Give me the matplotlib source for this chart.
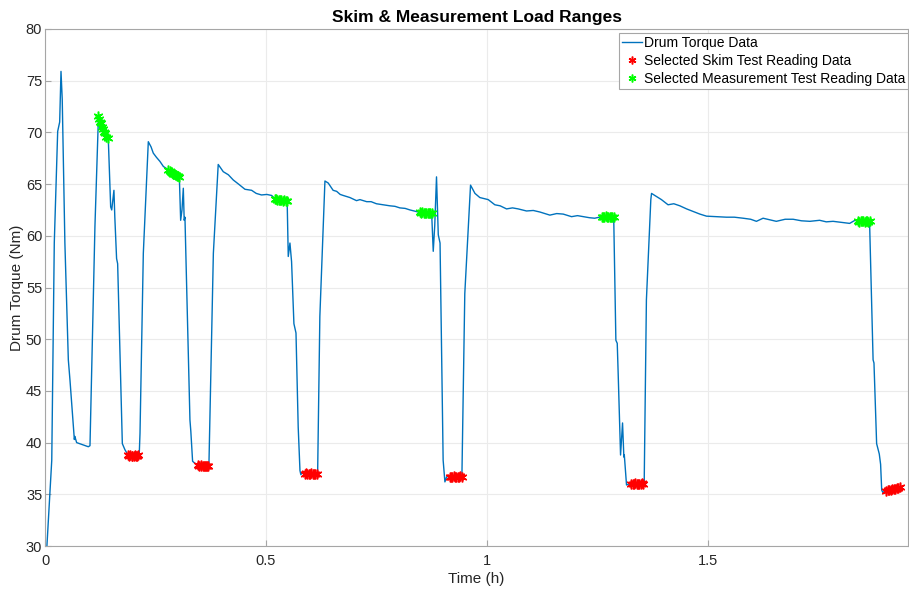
import numpy as np
import matplotlib.pyplot as plt

# Drum torque trace (time in hours, torque in Nm)
time_h = [0.003, 0.0153, 0.021, 0.0287, 0.0332, 0.0362, 0.039, 0.045, 0.0528, 0.0566,
          0.0664, 0.0675, 0.0716, 0.085, 0.098, 0.1018, 0.113, 0.1207,
          0.1433, 0.1486, 0.151, 0.156, 0.158, 0.162, 0.1644, 0.175, 0.181,
          0.2133, 0.215, 0.2225, 0.2338, 0.240, 0.245, 0.252, 0.26, 0.268, 0.2753,
          0.3039, 0.307, 0.31, 0.313, 0.315, 0.3167, 0.3205, 0.328, 0.330, 0.334, 0.339,
          0.371, 0.381, 0.392, 0.397, 0.4034, 0.415, 0.426, 0.438, 0.4525, 0.4676, 0.478,
          0.490, 0.502, 0.513,
          0.5505, 0.5543, 0.558, 0.5633, 0.568, 0.573, 0.577, 0.579, 0.583,
          0.617, 0.622, 0.6335, 0.641, 0.652, 0.66, 0.668, 0.675, 0.690, 0.705, 0.7127,
          0.728, 0.738, 0.750, 0.765, 0.7805, 0.792, 0.803, 0.815, 0.826, 0.8446,
          0.8786, 0.882, 0.886, 0.890, 0.894, 0.901, 0.905, 0.909,
          0.9435, 0.950, 0.963, 0.973, 0.984, 0.994, 1.003, 1.018, 1.030, 1.0445, 1.058,
          1.071, 1.0897, 1.105, 1.12, 1.1425, 1.158, 1.1727, 1.1916, 1.205, 1.218, 1.232,
          1.244,
          1.2919, 1.295, 1.2971, 1.3025, 1.307, 1.31, 1.311, 1.316, 1.322,
          1.356, 1.361, 1.371, 1.3726, 1.384, 1.395, 1.410, 1.423, 1.4367, 1.452, 1.4668,
          1.482, 1.497, 1.520, 1.542, 1.560, 1.580, 1.597, 1.610, 1.625, 1.640, 1.655,
          1.675, 1.693, 1.712, 1.731, 1.753, 1.768, 1.7835, 1.802, 1.821, 1.833,
          1.874, 1.876, 1.882, 1.888, 1.891, 1.8935, 1.897, 1.900]
torque = [29.0, 38.3, 59.3, 70.1, 71.0, 75.9, 73.2, 59.3, 48.0, 46.0,
          40.3, 40.6, 40.0, 39.8, 39.6, 39.7, 60.9, 71.5,
          69.3, 62.8, 62.5, 64.4, 61.8, 57.8, 57.3, 39.9, 39.3,
          38.9, 40.9, 58.3, 69.1, 68.6, 68.0, 67.6, 67.2, 66.7, 66.5,
          65.6, 61.5, 62.5, 64.6, 61.5, 61.8, 55.1, 42.2, 41.1, 38.2, 38.0,
          37.9, 58.3, 66.9, 66.6, 66.2, 65.9, 65.4, 65.0, 64.5, 64.4, 64.1,
          63.95, 64.0, 63.9,
          58.0, 59.3, 57.5, 51.5, 50.6, 41.5, 37.3, 36.9, 37.2,
          37.1, 52.2, 65.3, 65.1, 64.4, 64.3, 64.0, 63.9, 63.7, 63.4, 63.5,
          63.3, 63.3, 63.1, 63.0, 62.9, 62.85, 62.7, 62.65, 62.5, 62.3,
          58.5, 61.0, 65.7, 60.1, 59.3, 38.3, 36.2, 36.7,
          36.8, 54.4, 64.9, 64.1, 63.7, 63.6, 63.5, 63.0, 62.9, 62.6, 62.7,
          62.6, 62.4, 62.45, 62.3, 62.0, 62.15, 62.1, 61.85, 61.95, 61.85, 61.75,
          61.7,
          49.9, 49.6, 46.7, 38.8, 41.9, 38.6, 38.8, 35.9, 36.0,
          36.1, 53.8, 63.5, 64.1, 63.8, 63.5, 63.0, 63.1, 62.9, 62.6, 62.35,
          62.1, 61.9, 61.85, 61.8, 61.8, 61.7, 61.6, 61.4, 61.7, 61.55, 61.4,
          61.6, 61.6, 61.45, 61.4, 61.5, 61.35, 61.4, 61.3, 61.2, 61.5,
          48.0, 47.7, 39.9, 38.9, 37.9, 35.4, 35.1, 35.4]

# Selected skim test readings (low-load plateaus)
skim_t = [0.188, 0.191, 0.193, 0.196, 0.198, 0.201, 0.203, 0.206, 0.208, 0.211,
          0.347, 0.349, 0.352, 0.354, 0.357, 0.359, 0.362, 0.364, 0.367, 0.369,
          0.588, 0.591, 0.594, 0.597, 0.600, 0.603, 0.606, 0.609, 0.612, 0.615,
          0.916, 0.919, 0.922, 0.925, 0.928, 0.931, 0.934, 0.937, 0.940, 0.943,
          1.327, 1.330, 1.333, 1.336, 1.339, 1.342, 1.345, 1.348, 1.351, 1.354,
          1.904, 1.907, 1.911, 1.914, 1.917, 1.921, 1.924, 1.927, 1.931, 1.934]
skim_v = [38.8, 38.7, 38.8, 38.7, 38.75, 38.7, 38.8, 38.7, 38.7, 38.8,
          37.8, 37.7, 37.8, 37.7, 37.75, 37.7, 37.7, 37.75, 37.7, 37.7,
          37.0, 37.05, 37.0, 36.95, 37.0, 37.05, 37.0, 37.0, 36.95, 37.0,
          36.7, 36.65, 36.7, 36.75, 36.7, 36.65, 36.7, 36.7, 36.75, 36.7,
          36.0, 35.95, 36.0, 36.05, 36.0, 35.95, 36.0, 36.0, 36.05, 36.0,
          35.35, 35.4, 35.4, 35.45, 35.5, 35.5, 35.55, 35.6, 35.6, 35.7]

# Selected measurement test readings (high-load plateaus)
meas_t = [0.121, 0.123, 0.125, 0.127, 0.129, 0.131, 0.134, 0.136, 0.139, 0.142,
          0.279, 0.282, 0.285, 0.287, 0.290, 0.293, 0.296, 0.298, 0.301, 0.304,
          0.520, 0.523, 0.526, 0.529, 0.532, 0.535, 0.538, 0.541, 0.545, 0.548,
          0.848, 0.851, 0.854, 0.857, 0.860, 0.863, 0.866, 0.869, 0.872, 0.875,
          1.260, 1.263, 1.266, 1.269, 1.272, 1.275, 1.278, 1.281, 1.284, 1.287,
          1.840, 1.843, 1.846, 1.849, 1.852, 1.855, 1.858, 1.861, 1.863, 1.866]
meas_v = [71.6, 71.3, 71.0, 70.9, 70.5, 70.3, 70.0, 69.9, 69.6, 69.5,
          66.4, 66.3, 66.2, 66.1, 66.0, 66.0, 65.9, 65.8, 65.8, 65.7,
          63.6, 63.55, 63.5, 63.5, 63.45, 63.5, 63.4, 63.45, 63.4, 63.4,
          62.3, 62.25, 62.3, 62.2, 62.25, 62.2, 62.2, 62.25, 62.2, 62.2,
          61.85, 61.8, 61.85, 61.9, 61.85, 61.8, 61.85, 61.85, 61.8, 61.85,
          61.4, 61.35, 61.4, 61.45, 61.4, 61.35, 61.4, 61.4, 61.35, 61.4]

# merge the readings back into the trace so the line passes through them
all_t = np.array(time_h + skim_t + meas_t)
all_v = np.array(torque + skim_v + meas_v)
order = np.argsort(all_t)
all_t = all_t[order]
all_v = all_v[order]

plt.rcParams['font.family'] = ['Liberation Sans', 'DejaVu Sans']
plt.rcParams['font.size'] = 10

fig = plt.figure(figsize=(9.09, 5.90), dpi=100)
ax = fig.add_axes([45 / 909, 44 / 590, 863 / 909, 517 / 590])

asterisk = (6, 2, 0)
ax.plot(all_t, all_v, color='#0072BD', lw=1.0, label='Drum Torque Data')
ax.plot(skim_t, skim_v, ls='none', marker=asterisk, ms=7, mew=1.1,
        color='#ff0000', label='Selected Skim Test Reading Data')
ax.plot(meas_t, meas_v, ls='none', marker=asterisk, ms=7, mew=1.1,
        color='#00ff00', label='Selected Measurement Test Reading Data')

ax.set_xlim(0, 1.953)
ax.set_ylim(30, 80)
ax.set_xticks([0, 0.5, 1, 1.5])
ax.set_xticklabels(['0', '0.5', '1', '1.5'])
ax.set_yticks(np.arange(30, 81, 5))

ax.grid(True, color='#ebebeb', lw=0.8)
ax.set_axisbelow(True)
for sp in ax.spines.values():
    sp.set_color('#a6a6a6')
    sp.set_linewidth(0.8)
ax.tick_params(direction='in', length=4, color='#a6a6a6', labelcolor='#262626',
               labelsize=10.5)
ax.tick_params(axis='y', pad=2)
ax.tick_params(axis='x', pad=6)

ax.set_title('Skim & Measurement Load Ranges', fontsize=12.5, fontweight='bold', pad=5)
ax.set_xlabel('Time (h)', fontsize=11, color='#262626', labelpad=3)
ax.set_ylabel('Drum Torque (Nm)', fontsize=11, color='#262626')
ax.yaxis.set_label_coords(-0.024, 0.5)

leg = ax.legend(loc='upper right', bbox_to_anchor=(1.0, 1 - 4 / 517), borderaxespad=0,
                fancybox=False, framealpha=1, edgecolor='#a6a6a6', fontsize=10,
                handlelength=1.45, handletextpad=0.15, labelspacing=0.3,
                borderpad=0.2, markerscale=0.8)
leg.get_frame().set_linewidth(0.8)

fig.savefig('out.png', dpi=100)
